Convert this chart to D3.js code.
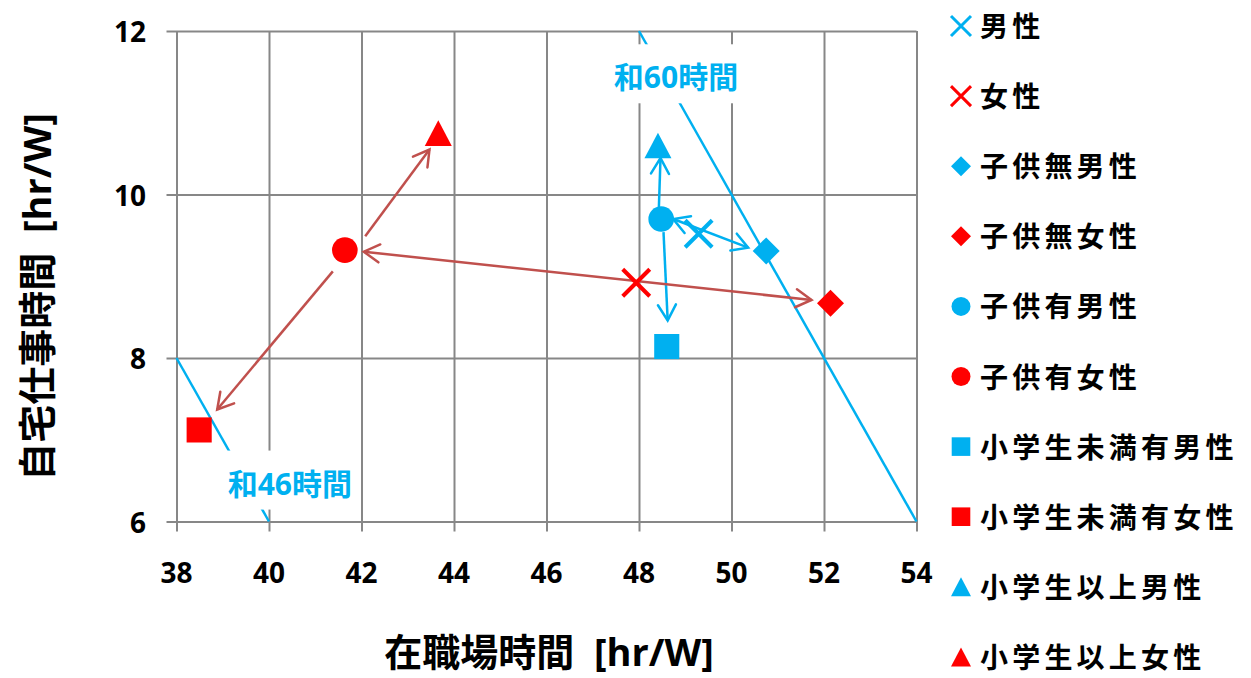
<!DOCTYPE html>
<html>
<head>
<meta charset="utf-8">
<script src="https://cdn.jsdelivr.net/npm/d3@7"></script>
<style>
  html, body { margin: 0; padding: 0; background: #fff; }
  svg { display: block; }
  text { font-family: "Open Sans", "Noto Sans CJK JP", sans-serif; font-weight: bold; }
</style>
</head>
<body>
<svg id="chart" width="1251" height="678"></svg>
<script>
// Axis ticks
const xTicks = [38, 40, 42, 44, 46, 48, 50, 52, 54];
const yTicks = [6, 8, 10, 12];

// Series: average weekly hours at the workplace vs. work done at home
const seriesNames = ["男性", "女性", "子供無男性", "子供無女性", "子供有男性", "子供有女性",
                     "小学生未満有男性", "小学生未満有女性", "小学生以上男性", "小学生以上女性"];
const workplaceHours = [49.29, 47.94, 50.75, 52.14, 48.48, 41.64, 48.60, 38.49, 48.41, 43.66];
const homeWorkHours  = [9.52, 8.92, 9.31, 8.67, 9.70, 9.32, 8.14, 7.12, 10.60, 10.75];
const seriesShapes   = ["x", "x", "diamond", "diamond", "circle", "circle", "square", "square", "triangle", "triangle"];
const seriesColors   = ["#00B0F0", "#FF0000", "#00B0F0", "#FF0000", "#00B0F0", "#FF0000",
                        "#00B0F0", "#FF0000", "#00B0F0", "#FF0000"];

// Constant-total lines (workplace + home = total)
const totalLabels = ["和46時間", "和60時間"];
const totalLineStart = [[38, 8], [48, 12]];
const totalLineEnd   = [[40, 6], [54, 6]];
const totalLabelAt   = [[40.45, 6.47], [48.80, 11.44]];

// Arrows between groups: [x0, y0] -> [x1, y1]; double-headed where flagged
const arrowFrom  = [[48.43, 9.845], [48.53, 9.54], [48.74, 9.70], [42.08, 9.49], [41.38, 9.06], [42.05, 9.30]];
const arrowTo    = [[48.465, 10.445], [48.62, 8.46], [50.36, 9.35], [43.47, 10.55], [38.88, 7.37], [51.73, 8.71]];
const arrowBoth  = [false, false, true, false, false, true];
const arrowColor = ["#00B0F0", "#00B0F0", "#00B0F0", "#C0504D", "#C0504D", "#C0504D"];

const svg = d3.select("#chart");
const x = d3.scaleLinear().domain([38, 54]).range([176.5, 916.5]);
const y = d3.scaleLinear().domain([6, 12]).range([521.5, 31]);
const gridColor = "#878787";

// Gridlines and axes
const xAxis = d3.axisBottom(x).tickValues(xTicks).tickSize(-(y(6) - y(12))).tickSizeOuter(0).tickFormat("");
const gx = svg.append("g").attr("transform", `translate(0,${y(6)})`).call(xAxis);
gx.select(".domain").remove();
gx.selectAll(".tick line").attr("stroke", gridColor).attr("stroke-width", 2).attr("y1", 10);

const yAxis = d3.axisLeft(y).tickValues(yTicks).tickSize(-(x(54) - x(38))).tickSizeOuter(0).tickFormat("");
const gy = svg.append("g").attr("transform", `translate(${x(38)},0)`).call(yAxis);
gy.select(".domain").remove();
gy.selectAll(".tick line").attr("stroke", gridColor).attr("stroke-width", 2).attr("x1", -10);

// Tick labels
svg.append("g").selectAll("text").data(xTicks).join("text")
  .attr("x", d => x(d)).attr("y", 572).attr("text-anchor", "middle").attr("dominant-baseline", "central")
  .attr("font-size", 28).attr("fill", "#000").text(d => d);
svg.append("g").selectAll("text").data(yTicks).join("text")
  .attr("x", 146).attr("y", d => y(d)).attr("text-anchor", "end").attr("dominant-baseline", "central")
  .attr("font-size", 28).attr("fill", "#000").text(d => d);

// Axis titles
svg.append("text").attr("x", 549).attr("y", 651).attr("text-anchor", "middle").attr("dominant-baseline", "central")
  .attr("font-size", 38).attr("fill", "#000").style("white-space", "pre").text("在職場時間  [hr/W]");
svg.append("text").attr("transform", "translate(36,297) rotate(-90)").attr("text-anchor", "middle")
  .attr("dominant-baseline", "central").attr("font-size", 38).attr("fill", "#000")
  .style("white-space", "pre").text("自宅仕事時間  [hr/W]");

// Constant-total lines
totalLabels.forEach((lab, i) => {
  svg.append("line")
    .attr("x1", x(totalLineStart[i][0])).attr("y1", y(totalLineStart[i][1]))
    .attr("x2", x(totalLineEnd[i][0])).attr("y2", y(totalLineEnd[i][1]))
    .attr("stroke", "#00B0F0").attr("stroke-width", 2.5);
});
totalLabels.forEach((lab, i) => {
  const g = svg.append("g");
  const t = g.append("text").attr("x", x(totalLabelAt[i][0])).attr("y", y(totalLabelAt[i][1]))
    .attr("text-anchor", "middle").attr("dominant-baseline", "central")
    .attr("font-size", 30).attr("fill", "#00B0F0").text(lab);
  const bb = t.node().getBBox();
  g.insert("rect", "text").attr("x", bb.x - 6).attr("y", bb.y - 12)
    .attr("width", bb.width + 12).attr("height", bb.height + 18).attr("fill", "#fff");
});

// Arrows
function arrowHead(g, tip, from, color) {
  const ang = Math.atan2(tip[1] - from[1], tip[0] - from[0]);
  const len = 18, spread = Math.PI / 6;
  const p1 = [tip[0] - len * Math.cos(ang - spread), tip[1] - len * Math.sin(ang - spread)];
  const p2 = [tip[0] - len * Math.cos(ang + spread), tip[1] - len * Math.sin(ang + spread)];
  g.append("path").attr("d", `M${p1[0]},${p1[1]}L${tip[0]},${tip[1]}L${p2[0]},${p2[1]}`)
    .attr("fill", "none").attr("stroke", color).attr("stroke-width", 2.5)
    .attr("stroke-linejoin", "miter").attr("stroke-linecap", "round");
}
const ga = svg.append("g");
arrowFrom.forEach((f, i) => {
  const a = [x(f[0]), y(f[1])], b = [x(arrowTo[i][0]), y(arrowTo[i][1])];
  ga.append("line").attr("x1", a[0]).attr("y1", a[1]).attr("x2", b[0]).attr("y2", b[1])
    .attr("stroke", arrowColor[i]).attr("stroke-width", 2.5);
  arrowHead(ga, b, a, arrowColor[i]);
  if (arrowBoth[i]) arrowHead(ga, a, b, arrowColor[i]);
});

// Marker shapes
function drawMarker(g, shape, cx, cy, s, color) {
  const h = s / 2;
  if (shape === "x") {
    g.append("path").attr("d", `M${cx - h},${cy - h}L${cx + h},${cy + h}M${cx - h},${cy + h}L${cx + h},${cy - h}`)
      .attr("stroke", color).attr("stroke-width", s * 0.15).attr("fill", "none");
  } else if (shape === "diamond") {
    g.append("path").attr("d", `M${cx},${cy - h}L${cx + h},${cy}L${cx},${cy + h}L${cx - h},${cy}Z`).attr("fill", color);
  } else if (shape === "circle") {
    g.append("circle").attr("cx", cx).attr("cy", cy).attr("r", h * 0.95).attr("fill", color);
  } else if (shape === "square") {
    g.append("rect").attr("x", cx - h * 0.93).attr("y", cy - h * 0.93).attr("width", s * 0.93).attr("height", s * 0.93).attr("fill", color);
  } else if (shape === "triangle") {
    g.append("path").attr("d", `M${cx},${cy - h * 0.95}L${cx + h},${cy + h * 0.95}L${cx - h},${cy + h * 0.95}Z`).attr("fill", color);
  }
}

// Data points
const gp = svg.append("g");
seriesNames.forEach((n, i) => {
  drawMarker(gp, seriesShapes[i], x(workplaceHours[i]), y(homeWorkHours[i]), 27, seriesColors[i]);
});

// Legend
const legend = svg.append("g");
seriesNames.forEach((n, i) => {
  const ly = 26 + i * 70.1;
  drawMarker(legend, seriesShapes[i], 961, ly, 20, seriesColors[i]);
  legend.append("text").attr("x", 980).attr("y", ly).attr("dominant-baseline", "central")
    .attr("font-size", 28).attr("letter-spacing", 4.2).attr("fill", "#000").text(n);
});
</script>
</body>
</html>
